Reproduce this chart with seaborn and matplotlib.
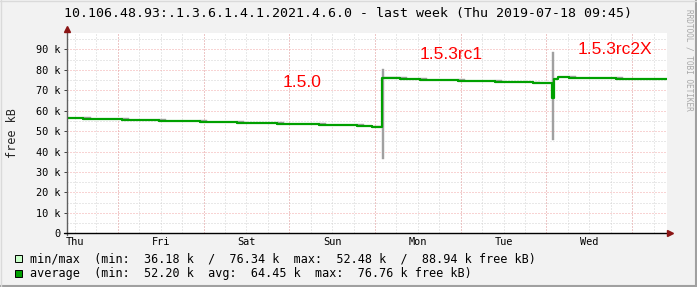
import matplotlib
matplotlib.use("Agg")
import matplotlib.pyplot as plt
import seaborn as sns
import numpy as np
from matplotlib.lines import Line2D
from matplotlib.patches import Rectangle

# ---------------- data ----------------
title = "10.106.48.93:.1.3.6.1.4.1.2021.4.6.0 - last week (Thu 2019-07-18 09:45)"
y_label = "free kB"
watermark = "RRDTOOL / TOBI OETIKER"
day_labels = ["Thu", "Fri", "Sat", "Sun", "Mon", "Tue", "Wed"]
first_noon_h = 2.25        # hours after the window start (Thu 09:45)
first_midnight_h = 14.25
span_h = 168

# hours from start, average / min / max free memory in k
hours = [0, 4.6, 6.6, 15.3, 17.3, 25.8, 27.8, 37.2, 39.2, 47.6, 49.6, 58.8, 60.8,
         70.6, 72.6, 81.2, 83.2, 85.4, 88.3, 88.8, 93.3, 95.3, 98.9, 100.9,
         109.5, 111.5, 119.8, 121.8, 130.4, 132.4, 135.8, 136.3, 137.5, 140.5,
         142.5, 153.6, 155.6, 168]
avg_k = [56.55, 55.9, 55.9, 55.4, 55.4, 54.9, 54.9, 54.5, 54.5, 54.0, 54.0, 53.5, 53.5,
         53.0, 53.0, 52.5, 52.5, 52.2, 76.1, 76.1, 75.6, 75.6, 75.0, 75.0,
         74.5, 74.5, 74.0, 74.0, 73.7, 73.7, 66.0, 75.3, 76.7, 76.1,
         76.1, 75.6, 75.6, 75.6]
min_k = [56.55, 55.9, 55.9, 55.4, 55.4, 54.9, 54.9, 54.5, 54.5, 54.0, 54.0, 53.5, 53.5,
         53.0, 53.0, 52.48, 52.48, 52.2, 36.18, 76.1, 75.6, 75.6, 75.0, 75.0,
         74.5, 74.5, 74.0, 74.0, 73.7, 73.7, 45.6, 75.3, 76.7, 76.1,
         76.1, 75.6, 75.6, 75.6]
max_k = [56.55, 56.8, 55.9, 56.2, 55.4, 55.7, 54.9, 55.2, 54.5, 54.8, 54.0, 54.3, 53.5,
         53.8, 53.0, 53.3, 52.5, 52.5, 80.2, 76.34, 76.4, 75.6, 75.9, 75.0,
         75.3, 74.5, 74.8, 74.0, 74.0, 73.7, 88.94, 75.3, 76.7, 77.0,
         76.1, 76.4, 75.6, 75.6]
y_ticks_k = [0, 10, 20, 30, 40, 50, 60, 70, 80, 90]
y_top_k = 98
versions = ["1.5.0", "1.5.3rc1", "1.5.3rc2X"]
legend_minmax = "min/max  (min:  36.18 k  /  76.34 k  max:  52.48 k  /  88.94 k free kB)"
legend_avg = "average  (min:  52.20 k  avg:  64.45 k  max:  76.76 k free kB)"

# ---------------- style ----------------
sns.set_theme(style="white")
plt.rcParams["font.family"] = ["DejaVu Sans Mono"]

W, H = 697, 287
BACK = "#F2F2F2"
GRID = "#D2D2D2"
MGRID = "#F2A8A8"
AVG_C = "#00A000"
BAND_C = "#A0A0A0"
ARROW_C = "#8B1515"

fig = plt.figure(figsize=(W / 100, H / 100), dpi=100)
fig.patch.set_facecolor(BACK)

x0, x1 = 67, 667
y_bot, y_top = 233.3, 33.0
ax = fig.add_axes([x0 / W, (H - y_bot) / H, (x1 - x0) / W, (y_bot - y_top) / H])
ax.set_facecolor("white")
ax.set_xlim(0, span_h)
ax.set_ylim(0, y_top_k)

dots = (0, (1, 2))
lw_px = 0.72
# minor grid
for h in np.arange(first_noon_h, span_h, 6):
    ax.axvline(h, color=GRID, lw=lw_px, ls=dots, zorder=0)
for v in range(5, y_top_k, 10):
    ax.axhline(v, color=GRID, lw=lw_px, ls=dots, zorder=0)
# major grid
for h in np.arange(first_midnight_h, span_h, 24):
    ax.axvline(h, color=MGRID, lw=lw_px, ls=dots, zorder=1)
for v in y_ticks_k[1:]:
    ax.axhline(v, color=MGRID, lw=lw_px, ls=dots, zorder=1)

# min/max band
ax.fill_between(hours, min_k, max_k, step="post", facecolor=BAND_C,
                edgecolor=BAND_C, linewidth=0.3, zorder=2)
# average line
sns.lineplot(x=hours, y=avg_k, drawstyle="steps-post", color=AVG_C,
             linewidth=1.6, ax=ax, sort=False, zorder=3)

# ticks
ax.set_xticks(np.arange(first_noon_h, span_h, 24))
ax.set_xticklabels(day_labels)
ax.set_yticks(y_ticks_k)
ax.set_yticklabels(["0" if v == 0 else f"{v} k" for v in y_ticks_k])
ax.tick_params(axis="x", length=0, pad=2.5, labelsize=7.4, colors="black")
ax.tick_params(axis="y", length=2, width=0.7, pad=2.5, labelsize=7.4,
               colors="#404040", labelcolor="black", left=True)
ax.set_xlabel("")
ax.set_ylabel("")
for s in ["top", "right", "left", "bottom"]:
    ax.spines[s].set_visible(False)

# axes lines with arrows (figure pixel coords)
def fx(px):
    return px / W

def fy(py):
    return 1 - py / H

fig.add_artist(Line2D([fx(66.7), fx(66.7)], [fy(235), fy(29)], color="#606060", lw=1.0))
fig.add_artist(Line2D([fx(64), fx(670)], [fy(233.3), fy(233.3)], color="black", lw=1.0))
fig.add_artist(Line2D([fx(66.7)], [fy(29)], marker="^", markersize=4, color=ARROW_C, lw=0))
fig.add_artist(Line2D([fx(670)], [fy(233.3)], marker=">", markersize=4, color=ARROW_C, lw=0))

# version annotations
ann_style = dict(color="#FF0000", fontsize=12.5, family=["Liberation Sans"],
                 ha="center", va="center", zorder=5)
ax.text(65.7, 73.7, versions[0], **ann_style)
ax.text(107.5, 87.6, versions[1], **ann_style)
ax.text(153.3, 89.7, versions[2], **ann_style)

# title, axis label, watermark
fig.text(fx(348), fy(13), title, ha="center", va="center", fontsize=9.5, color="black")
fig.text(fx(13), fy(133), y_label, rotation=90, ha="center", va="center", fontsize=8.5)
fig.text(fx(689), fy(60), watermark, rotation=270, ha="center", va="center",
         fontsize=5.6, color="#A8A8A8")

# legend
for row_y, fc, txt in [(258.5, "#C8FFC8", legend_minmax), (273, AVG_C, legend_avg)]:
    fig.add_artist(Rectangle((fx(15), fy(row_y + 3.5)), 7 / W, 7 / H,
                             facecolor=fc, edgecolor="black", lw=0.7))
    fig.text(fx(30), fy(row_y), txt, ha="left", va="center", fontsize=8.5, color="black")

# 3D frame edges
fig.add_artist(Line2D([fx(696), fx(696)], [fy(0), fy(287)], color="#A0A0A0", lw=1.5))
fig.add_artist(Line2D([fx(0), fx(697)], [fy(286), fy(286)], color="#A0A0A0", lw=1.5))
fig.add_artist(Line2D([fx(0.5), fx(0.5)], [fy(0), fy(287)], color="#DADADA", lw=1.0))
fig.add_artist(Line2D([fx(0), fx(697)], [fy(0.5), fy(0.5)], color="#DADADA", lw=1.0))

fig.savefig("out.png", dpi=100, facecolor=BACK)
